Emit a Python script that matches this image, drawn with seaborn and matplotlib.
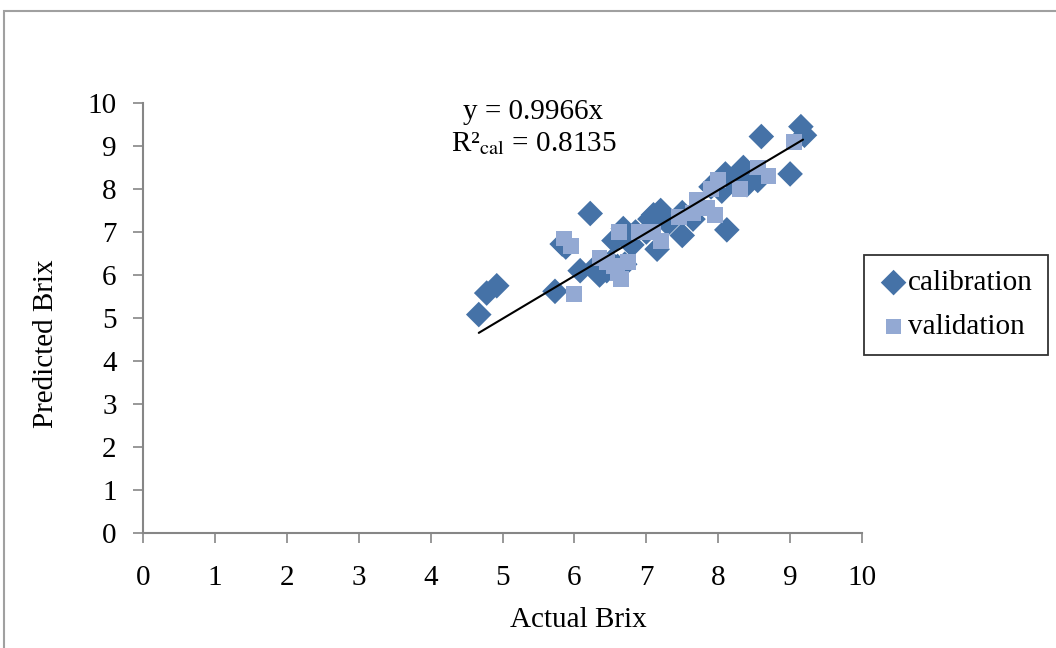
import numpy as np
import pandas as pd
import matplotlib
matplotlib.use("Agg")
import matplotlib.pyplot as plt
from matplotlib.patches import Rectangle
import seaborn as sns

cal_actual = [4.67, 4.78, 4.92, 5.73, 5.83, 5.88, 6.22, 6.08, 6.30, 6.35, 6.45, 6.50, 6.55, 6.60,
              6.68, 6.70, 6.80, 6.85, 7.00, 7.05, 7.10, 7.15, 7.20, 7.30, 7.50, 7.50, 7.65, 7.90,
              8.05, 8.10, 8.12, 8.20, 8.35, 8.40, 8.55, 8.60, 9.00, 9.15, 9.20, 8.00]
cal_pred = [5.08, 5.58, 5.75, 5.62, 6.72, 6.65, 7.43, 6.10, 6.20, 6.00, 6.10, 6.30, 6.80, 6.20,
            7.08, 6.25, 6.70, 7.00, 7.00, 7.30, 7.40, 6.60, 7.50, 7.20, 7.45, 6.92, 7.30, 8.05,
            7.95, 8.35, 7.05, 8.20, 8.50, 8.10, 8.20, 9.22, 8.35, 9.45, 9.25, 8.15]
val_actual = [5.85, 5.95, 6.00, 6.35, 6.55, 6.60, 6.62, 6.65, 6.75, 6.90, 7.10, 7.20, 7.45, 7.65,
              7.70, 7.85, 7.90, 7.95, 8.00, 8.30, 8.55, 8.70, 9.05, 6.45]
val_pred = [6.85, 6.68, 5.55, 6.40, 6.20, 6.05, 7.00, 5.90, 6.30, 7.00, 7.00, 6.80, 7.35, 7.45,
            7.75, 7.55, 8.00, 7.40, 8.20, 8.00, 8.50, 8.30, 9.10, 6.30]
slope = 0.9966
trend_x = [4.67, 9.18]
x_ticks = list(range(0, 11))
y_ticks = list(range(0, 11))

sns.set_theme(style="white")
plt.rcParams['font.family'] = ['Liberation Serif', 'DejaVu Serif']
plt.rcParams['mathtext.fontset'] = 'stix'
plt.rcParams['text.color'] = 'black'
plt.rcParams['axes.labelcolor'] = 'black'

FS = 21

fig = plt.figure(figsize=(10.56, 6.48), dpi=100)
fig.patches.append(Rectangle((4/1056, -0.1), 1.2, 1 - 11/648 + 0.1, transform=fig.transFigure,
                             fill=False, edgecolor='#a0a0a0', linewidth=1.5))
ax = fig.add_axes([143/1056, 1 - 533/648, (862-143)/1056, (533-103)/648])

cal = pd.DataFrame({"actual": cal_actual, "pred": cal_pred})
val = pd.DataFrame({"actual": val_actual, "pred": val_pred})

sns.scatterplot(data=cal, x="actual", y="pred", marker="D", s=170, color="#4572A7",
                edgecolor="none", ax=ax, label="calibration", zorder=3)
sns.scatterplot(data=val, x="actual", y="pred", marker="s", s=130, color="#93A9D3",
                edgecolor="none", ax=ax, label="validation", zorder=3)
tx = np.array(trend_x)
ax.plot(tx, slope * tx, color="black", linewidth=1.5, zorder=4)

ax.set_xlim(0, 10)
ax.set_ylim(0, 10)
ax.set_xticks(x_ticks)
ax.set_yticks(y_ticks)
ax.tick_params(axis='both', direction='out', length=7, width=1.2, color='#868686',
               labelsize=FS, labelcolor='black', left=True, bottom=True)
ax.tick_params(axis='x', pad=16)
ax.tick_params(axis='y', pad=12)
for side in ['top', 'right']:
    ax.spines[side].set_visible(False)
for side in ['left', 'bottom']:
    ax.spines[side].set_color('#868686')
    ax.spines[side].set_linewidth(1.5)
ax.set_xlabel("Actual Brix", fontsize=FS)
ax.set_ylabel("Predicted Brix", fontsize=FS)
ax.xaxis.set_label_coords(0.605, -0.172)
ax.yaxis.set_label_coords(-0.117, 0.44)

ax.text(5.43, 9.8, "y = 0.9966x", ha='center', va='center', fontsize=FS)
ax.text(5.43, 9.05, r"R²$_{\mathrm{cal}}$ = 0.8135", ha='center', va='center', fontsize=FS)

leg = ax.legend(loc='center', bbox_to_anchor=(956/1056, 1 - 305/648), bbox_transform=fig.transFigure,
                fontsize=FS, frameon=True, fancybox=False, handletextpad=0.0, handlelength=1.0,
                borderpad=0.5, labelspacing=0.6, borderaxespad=0)
leg.get_frame().set_edgecolor('black')
leg.get_frame().set_linewidth(1.3)

fig.savefig("out.png", dpi=100)
